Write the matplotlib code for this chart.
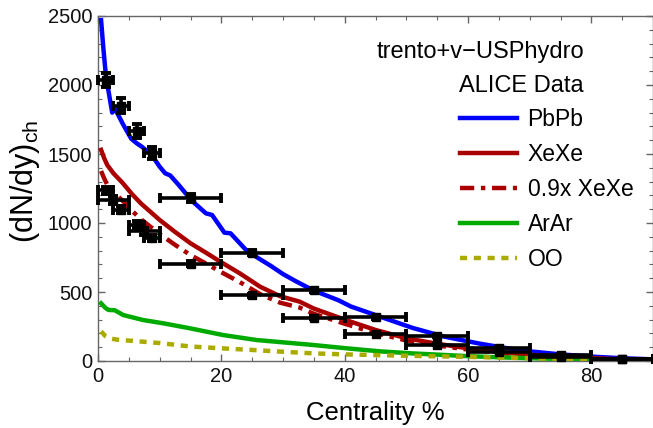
import numpy as np
import matplotlib
matplotlib.use('Agg')
import matplotlib.pyplot as plt
from matplotlib.ticker import MultipleLocator

plt.rcParams['font.family'] = ['Liberation Sans', 'DejaVu Sans']
plt.rcParams['mathtext.fontset'] = 'custom'
plt.rcParams['mathtext.rm'] = 'Liberation Sans'
plt.rcParams['mathtext.it'] = 'Liberation Sans:italic'

# model curves (trento+v-USPhydro)
pbpb_x = [0.5, 0.9, 1.3, 1.8, 2.3, 2.8, 4.0, 5.4, 6.3, 7.1, 8.7, 10.0, 10.9, 11.7, 13, 14.4,
          15.5, 17.5, 18.5, 20.5, 21.5, 24, 26, 28, 30, 32, 35, 39, 41, 45.5, 51, 56, 62,
          66, 70, 75, 80, 85, 90]
pbpb_y = [2470, 2250, 2060, 1930, 1800, 1825, 1720, 1610, 1577, 1553, 1493, 1408, 1360, 1345,
          1280, 1205, 1150, 1070, 1058, 930, 925, 805, 745, 690, 630, 580, 510, 440, 395, 325,
          240, 178, 125, 95, 70, 48, 32, 20, 12]

xexe_x = [0.5, 1.0, 1.5, 2.5, 4, 5.5, 7, 10, 12.5, 15, 17.5, 20, 23, 26.3, 29.5, 32.7, 35,
          40, 45, 50, 55, 60, 65, 70, 75, 80, 85, 90]
xexe_y = [1530, 1470, 1420, 1360, 1290, 1210, 1140, 1022, 935, 853, 785, 715, 635, 538, 470,
          430, 380, 300, 225, 165, 125, 92, 65, 45, 30, 20, 12, 7]
xexe_scale = 0.9

arar_x = [0.5, 1.2, 1.7, 2.7, 4.1, 7.3, 10.6, 14.9, 20.3, 25.7, 29.3, 34.9, 40.3, 45.7, 51,
          56.5, 60, 65, 70, 75, 80, 85, 90]
arar_y = [418, 385, 370, 368, 333, 297, 273, 237, 188, 152, 138, 116, 92, 70, 55, 43, 35, 27,
          20, 15, 10, 7, 5]

oo_x = [0.5, 1.2, 1.9, 3, 5, 10, 15, 20, 25, 30, 35, 40, 50, 60, 70, 80, 90]
oo_y = [215, 180, 164, 155, 148, 130, 105, 92, 80, 67, 55, 48, 38, 30, 20, 12, 6]

# ALICE data: bin edges, value, stat error
pb_lo = [0, 2.5, 5, 7.5, 10, 20, 30, 40, 50, 60, 70, 80]
pb_hi = [2.5, 5, 7.5, 10, 20, 30, 40, 50, 60, 70, 80, 90]
pb_val = [2035, 1850, 1666, 1505, 1180, 786, 512, 318, 183, 96.3, 44.9, 17.5]
pb_err = [52, 55, 48, 44, 31, 20, 15, 12, 8, 5.8, 3.4, 1.8]

xe_lo = [0, 2.5, 5, 7.5, 0, 5, 10, 20, 30, 40, 50, 60, 70, 80]
xe_hi = [2.5, 5, 7.5, 10, 5, 10, 20, 30, 40, 50, 60, 70, 80, 90]
xe_val = [1238, 1096, 986, 891, 1167, 939, 706, 478, 315, 198, 118, 64.7, 32, 13.3]
xe_err = [25, 27, 25, 24, 26, 24, 17, 11, 8, 5, 3, 2, 1.3, 0.9]

fig = plt.figure(figsize=(6.53, 4.28), dpi=100)
ax = fig.add_axes([98 / 653, 67 / 428, 555 / 653, 345 / 428])

lw = 3.2
ax.plot(pbpb_x, pbpb_y, color='#0000ff', lw=lw, label='PbPb', zorder=3)
ax.plot(xexe_x, xexe_y, color='#aa0000', lw=lw, label='XeXe', zorder=3)
ax.plot(xexe_x, xexe_scale * np.array(xexe_y), color='#aa0000', lw=lw,
        dashes=(3.2, 1.5, 1.0, 1.5), label='0.9x XeXe', zorder=3)
ax.plot(arar_x, arar_y, color='#00aa00', lw=lw, label='ArAr', zorder=3)
ax.plot(oo_x, oo_y, color='#aaaa00', lw=lw, dashes=(1.6, 1.5), label='OO', zorder=3)

for lo, hi, val, err in [(pb_lo, pb_hi, pb_val, pb_err), (xe_lo, xe_hi, xe_val, xe_err)]:
    lo = np.array(lo)
    hi = np.array(hi)
    cx = (lo + hi) / 2
    ax.errorbar(cx, val, xerr=(hi - lo) / 2, yerr=err, fmt='s', color='black', ms=5.5,
                elinewidth=2.6, capsize=3.6, capthick=2.8, zorder=5, clip_on=False)

ax.set_xlim(0, 90)
ax.set_ylim(0, 2500)
ax.xaxis.set_major_locator(MultipleLocator(20))
ax.xaxis.set_minor_locator(MultipleLocator(5))
ax.yaxis.set_major_locator(MultipleLocator(500))
ax.yaxis.set_minor_locator(MultipleLocator(100))

frame = '#666666'
for s in ax.spines.values():
    s.set_color(frame)
    s.set_linewidth(1.0)
ax.tick_params(which='both', direction='in', top=True, right=True, color=frame,
               labelsize=14.5, labelcolor='#111111', pad=4)
ax.tick_params(which='major', length=5, width=1)
ax.tick_params(which='minor', length=3, width=0.8)

ax.set_xlabel('Centrality %', fontsize=18.5, va='top')
ax.xaxis.set_label_coords(0.5, -0.115)
ax.set_ylabel('(dN/dy)$_\\mathrm{ch}$', fontsize=22)
ax.yaxis.set_label_coords(-0.1, 0.52)

ax.text(584, 428 - 52, 'trento+v\u2212USPhydro', transform=None, fontsize=17,
        ha='right', va='center')
ax.text(584, 428 - 86, 'ALICE Data', transform=None, fontsize=17, ha='right', va='center')

ax.legend(loc='upper left', bbox_to_anchor=(460 / 653, 1 - 108 / 428),
          bbox_transform=fig.transFigure, frameon=False, fontsize=16.5,
          handlelength=2.5, handletextpad=0.45, labelspacing=0.52, borderpad=0,
          borderaxespad=0)

fig.savefig('out.png', dpi=100)
